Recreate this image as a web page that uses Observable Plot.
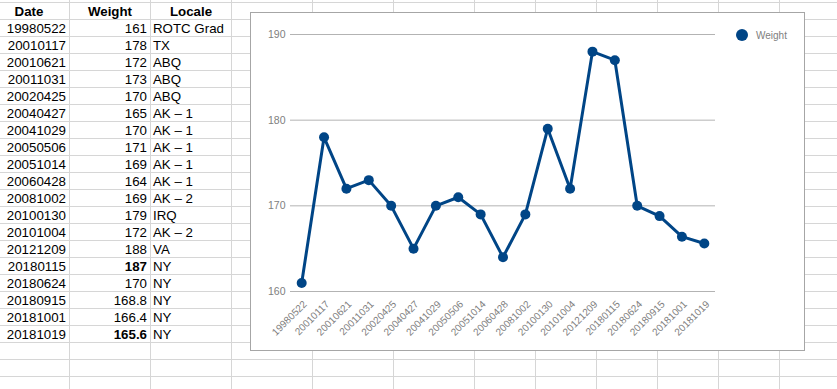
<!DOCTYPE html>
<html><head><meta charset="utf-8">
<script src="https://cdn.jsdelivr.net/npm/d3@7"></script>
<script src="https://cdn.jsdelivr.net/npm/@observablehq/plot@0.6"></script>
<style>
body{margin:0;background:#fff;font-family:"Liberation Sans",Arial,sans-serif;}
#sheet{position:relative;width:837px;height:389px;overflow:hidden;background:#fff;}
.vl{position:absolute;top:0;width:1px;height:389px;background:#d6d6d6;}
.hl{position:absolute;left:0;height:1px;width:837px;background:#d6d6d6;}
.cell{position:absolute;height:17px;line-height:17px;font-size:13.3px;color:#000;white-space:nowrap;box-sizing:border-box;}
#frame{position:absolute;left:250px;top:12px;width:553px;height:337px;border:1px solid #a6a6a6;background:#fff;}
#frame svg{display:block;}
#legend{position:absolute;left:736px;top:29px;height:12px;display:flex;align-items:center;font-size:10px;color:#808080;}
#legend .sw{width:12px;height:12px;border-radius:50%;background:#004586;margin-right:8px;}
</style></head>
<body>
<div id="sheet"></div>
<script>
const dates = ["19980522","20010117","20010621","20011031","20020425","20040427","20041029","20050506","20051014","20060428","20081002","20100130","20101004","20121209","20180115","20180624","20180915","20181001","20181019"];
const weights = [161,178,172,173,170,165,170,171,169,164,169,179,172,188,187,170,168.8,166.4,165.6];
const locales = ["ROTC Grad","TX","ABQ","ABQ","ABQ","AK – 1","AK – 1","AK – 1","AK – 1","AK – 1","AK – 2","IRQ","AK – 2","VA","NY","NY","NY","NY","NY"];
const headers = ["Date","Weight","Locale"];
const boldRows = [14, 18];
const yTicks = [160,170,180,190];
const seriesName = "Weight";

const sheet = document.getElementById("sheet");
// spreadsheet grid
[69,150,231,312,393,474,535,596,657,718,779].forEach(x => {
  const d = document.createElement("div"); d.className = "vl"; d.style.left = x + "px"; sheet.appendChild(d);
});
for (let k = 0; k < 24; k++) {
  const d = document.createElement("div"); d.className = "hl"; d.style.top = (2 + 17 * k) + "px"; sheet.appendChild(d);
}
const cols = [
  {left:-11, width:80, align:"right", pad:"0 3px 0 0"},
  {left:70, width:80, align:"right", pad:"0 3px 0 0"},
  {left:150, width:82, align:"left", pad:"0 0 0 3px"}
];
function cell(text, c, row, bold, center) {
  const d = document.createElement("div");
  d.className = "cell";
  d.textContent = text;
  d.style.left = c.left + "px";
  d.style.width = c.width + "px";
  d.style.top = (3 + 17 * row) + "px";
  d.style.textAlign = center ? "center" : c.align;
  d.style.padding = center ? "0" : c.pad;
  if (bold) d.style.fontWeight = "bold";
  sheet.appendChild(d);
}
headers.forEach((h, i) => cell(h, cols[i], 0, true, true));
dates.forEach((dt, i) => {
  cell(dt, cols[0], i + 1, false, false);
  cell(String(weights[i]), cols[1], i + 1, boldRows.includes(i), false);
  cell(locales[i], cols[2], i + 1, false, false);
});

// chart
const frame = document.createElement("div");
frame.id = "frame";
sheet.appendChild(frame);
const data = dates.map((d, i) => ({date: d, weight: weights[i]}));
const chart = Plot.plot({
  width: 553, height: 337,
  marginLeft: 39, marginRight: 89, marginTop: 21, marginBottom: 59,
  x: {type: "point", domain: dates, padding: 0.5, round: false},
  y: {domain: [160, 190]},
  style: {fontFamily: "Liberation Sans, Arial, sans-serif", fontSize: "10px", background: "transparent", overflow: "visible"},
  marks: [
    Plot.gridY(yTicks, {stroke: "#b3b3b3", strokeOpacity: 1, strokeWidth: 1}),
    Plot.axisY(yTicks, {tickSize: 0, tickPadding: 5, fill: "#808080", fontSize: 10.5, label: null}),
    Plot.axisX({tickSize: 0, tickPadding: 4, tickRotate: -45, fill: "#808080", fontSize: 10, label: null, dx: 3.5, dy: 7}),
    Plot.line(data, {x: "date", y: "weight", stroke: "#004586", strokeWidth: 3}),
    Plot.dot(data, {x: "date", y: "weight", fill: "#004586", r: 5})
  ]
});
frame.appendChild(chart);

// legend
const lg = document.createElement("div");
lg.id = "legend";
lg.innerHTML = '<div class="sw"></div><span></span>';
lg.querySelector("span").textContent = seriesName;
sheet.appendChild(lg);
</script>
</body></html>
